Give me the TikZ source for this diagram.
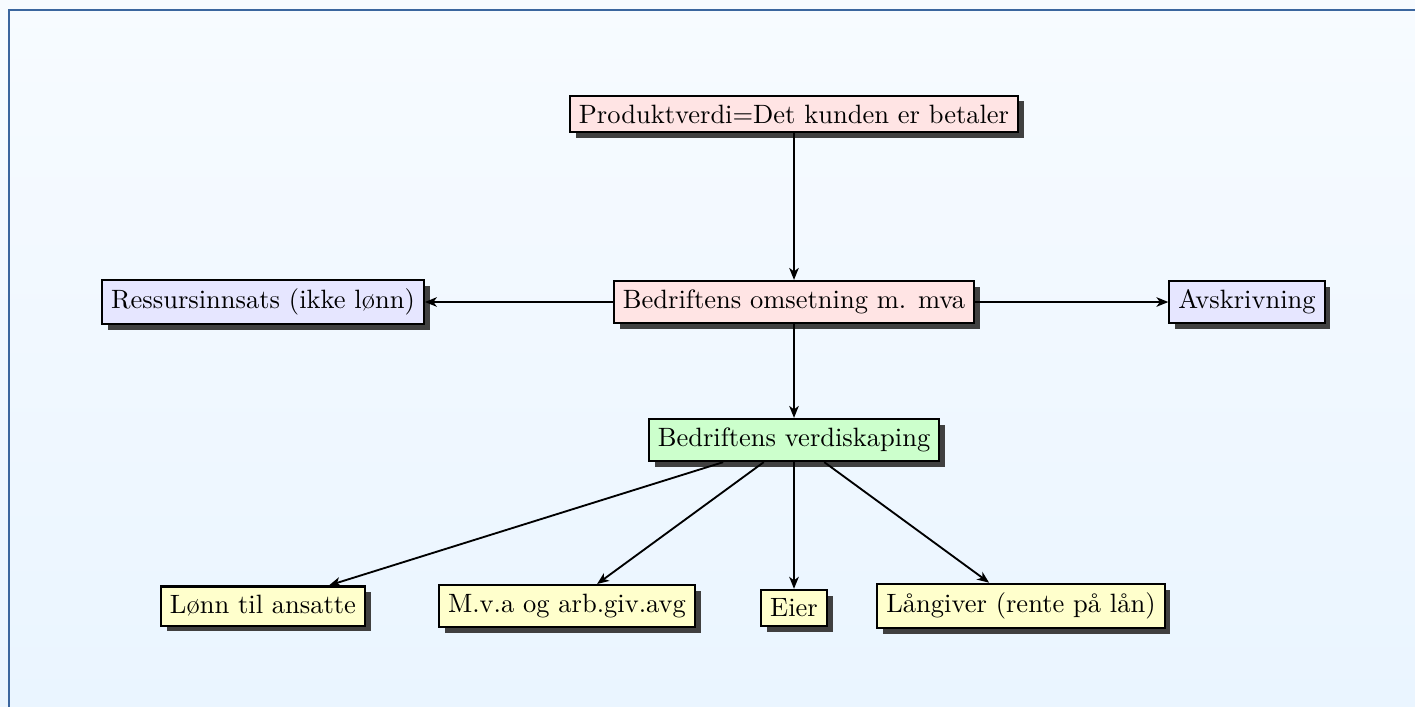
\documentclass[tikz,border=0pt]{standalone}
\usetikzlibrary{shadows,arrows.meta}
\definecolor{framecol}{RGB}{59,102,158}
\definecolor{bgtop}{RGB}{247,251,255}
\definecolor{bgbot}{RGB}{234,245,255}
\definecolor{pinkfill}{RGB}{255,228,228}
\definecolor{lavfill}{RGB}{230,230,255}
\definecolor{greenfill}{RGB}{204,255,204}
\definecolor{yelfill}{RGB}{255,255,204}
\tikzset{
  boxnode/.style={draw=black, line width=0.8pt, inner sep=3.4pt,
    drop shadow={shadow xshift=2.2pt, shadow yshift=-2.2pt, fill=black!75, opacity=1}},
  pinkbox/.style={boxnode, fill=pinkfill},
  lavbox/.style={boxnode, fill=lavfill},
  greenbox/.style={boxnode, fill=greenfill},
  yelbox/.style={boxnode, fill=yelfill},
  conn/.style={line width=0.7pt, -{Stealth[length=4.5pt,width=3.6pt,inset=1.3pt]}}
}
\begin{document}
\begin{tikzpicture}[x=0.3774pt,y=-0.3774pt]
\useasboundingbox (0,0) rectangle (1415,706);
\shade[top color=bgtop, bottom color=bgbot] (0,0) rectangle (1415,706);
\draw[framecol, line width=1.1pt] (1440,10) -- (9,10) -- (9,730);

\node[pinkbox] (prod) at (794,114) {Produktverdi=Det kunden er betaler};
\node[pinkbox] (oms) at (794,302) {Bedriftens omsetning m. mva};
\node[lavbox] (res) at (263,302) {Ressursinnsats (ikke lønn)};
\node[lavbox] (avs) at (1247,302) {Avskrivning};
\node[greenbox] (verd) at (794,440) {Bedriftens verdiskaping};
\node[yelbox] (lonn) at (263,606) {Lønn til ansatte};
\node[yelbox] (mva) at (567,606) {M.v.a og arb.giv.avg};
\node[yelbox] (eier) at (794,608) {Eier};
\node[yelbox] (lang) at (1021,606) {Långiver (rente på lån)};

\draw[conn] (prod) -- (oms);
\draw[conn] (oms) -- (res);
\draw[conn] (oms) -- (avs);
\draw[conn] (oms) -- (verd);
\draw[conn] (verd) -- (lonn);
\draw[conn] (verd) -- (mva);
\draw[conn] (verd) -- (eier);
\draw[conn] (verd) -- (lang);
\end{tikzpicture}
\end{document}
